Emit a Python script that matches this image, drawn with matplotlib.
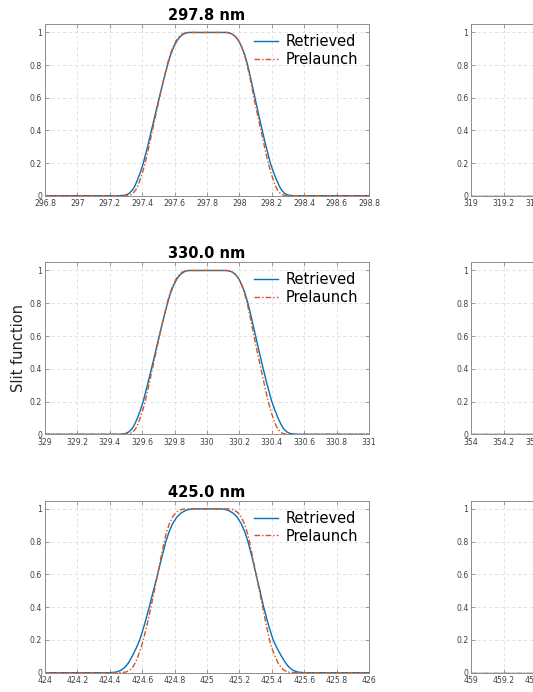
import numpy as np
import matplotlib
matplotlib.use('Agg')
import matplotlib.pyplot as plt
from matplotlib.ticker import FormatStrFormatter, FuncFormatter, MultipleLocator

# panel centres (nm) and titles
centers = [297.8, 330.0, 425.0]
titles = ['297.8 nm', '330.0 nm', '425.0 nm']
right_starts = [319.0, 354.0, 459.0]   # right column, only partly in view

# slit function levels read along each edge of the curves
lev_up = [0, 0.004, 0.015, 0.035, 0.06, 0.1, 0.15, 0.2, 0.3, 0.4, 0.5,
          0.6, 0.7, 0.8, 0.86, 0.91, 0.95, 0.975, 0.99, 0.997, 1.0]

# wavelength offsets from centre (nm) where each curve meets those levels
# rising edge (left) and falling edge (right)
ret_298_l = [-0.54, -0.50, -0.48, -0.46, -0.445, -0.428, -0.409, -0.393, -0.367, -0.343, -0.319,
             -0.295, -0.270, -0.244, -0.226, -0.206, -0.185, -0.165, -0.145, -0.128, -0.11]
ret_298_r = [0.53, 0.50, 0.478, 0.46, 0.446, 0.428, 0.408, 0.391, 0.365, 0.341, 0.318,
             0.296, 0.274, 0.251, 0.234, 0.215, 0.195, 0.175, 0.155, 0.138, 0.12]
pre_298_l = [-0.51, -0.475, -0.457, -0.440, -0.427, -0.412, -0.396, -0.382, -0.359, -0.337, -0.315,
             -0.293, -0.270, -0.246, -0.229, -0.210, -0.190, -0.171, -0.152, -0.136, -0.12]
pre_298_r = [0.50, 0.47, 0.452, 0.436, 0.423, 0.408, 0.392, 0.378, 0.355, 0.333, 0.311,
             0.290, 0.270, 0.248, 0.232, 0.214, 0.195, 0.176, 0.157, 0.14, 0.12]

ret_330_l = [-0.545, -0.505, -0.482, -0.462, -0.447, -0.429, -0.410, -0.394, -0.368, -0.343, -0.319,
             -0.295, -0.270, -0.244, -0.226, -0.206, -0.185, -0.165, -0.145, -0.128, -0.11]
ret_330_r = [0.55, 0.515, 0.492, 0.472, 0.457, 0.438, 0.418, 0.400, 0.372, 0.347, 0.323,
             0.300, 0.277, 0.253, 0.235, 0.216, 0.196, 0.176, 0.156, 0.139, 0.12]
pre_330_l = [-0.51, -0.475, -0.457, -0.440, -0.427, -0.412, -0.396, -0.382, -0.359, -0.337, -0.315,
             -0.293, -0.270, -0.246, -0.229, -0.210, -0.190, -0.171, -0.152, -0.136, -0.12]
pre_330_r = [0.50, 0.47, 0.452, 0.436, 0.423, 0.408, 0.392, 0.378, 0.355, 0.333, 0.311,
             0.290, 0.270, 0.248, 0.232, 0.214, 0.195, 0.176, 0.157, 0.14, 0.12]

ret_425_l = [-0.60, -0.56, -0.53, -0.505, -0.485, -0.462, -0.437, -0.415, -0.384, -0.357, -0.331,
             -0.305, -0.280, -0.254, -0.234, -0.212, -0.186, -0.160, -0.133, -0.11, -0.085]
ret_425_r = [0.60, 0.56, 0.53, 0.505, 0.485, 0.460, 0.432, 0.408, 0.377, 0.350, 0.327,
             0.303, 0.279, 0.253, 0.233, 0.211, 0.186, 0.160, 0.133, 0.11, 0.085]
pre_425_l = [-0.54, -0.50, -0.478, -0.458, -0.443, -0.426, -0.408, -0.393, -0.368, -0.346, -0.325,
             -0.305, -0.285, -0.264, -0.249, -0.232, -0.213, -0.194, -0.174, -0.155, -0.135]
pre_425_r = [0.54, 0.50, 0.475, 0.455, 0.438, 0.42, 0.40, 0.386, 0.364, 0.344, 0.323,
             0.303, 0.283, 0.262, 0.247, 0.230, 0.212, 0.193, 0.173, 0.155, 0.135]

retrieved = [(ret_298_l, ret_298_r), (ret_330_l, ret_330_r), (ret_425_l, ret_425_r)]
prelaunch = [(pre_298_l, pre_298_r), (pre_330_l, pre_330_r), (pre_425_l, pre_425_r)]

# visible bit of the right column: flat zero
right_dx = [0.0, 0.2, 0.4, 0.6]
right_y = [0, 0, 0, 0]

BLUE = '#0072BD'
ORANGE = '#D95319'
TXT = '#404040'
GREY = '#8c8c8c'

fig = plt.figure(figsize=(5.33, 6.92), dpi=100)
W, H = 533.0, 692.0
rows = [(24.3, 195.7), (262.3, 434.3), (500.7, 672.7)]  # top, bottom in px

y_curve = [0] + lev_up + lev_up[::-1] + [0]


def curve_x(c, sides):
    left, right = sides
    return c + np.array([-1.0] + left + right[::-1] + [1.0])


def style(ax, x0, last_label=None):
    ax.set_xlim(x0, x0 + 2.0)
    ax.set_ylim(0, 1.05)
    ax.xaxis.set_major_locator(MultipleLocator(0.2))
    ax.yaxis.set_major_locator(MultipleLocator(0.2))
    if last_label is None:
        ax.xaxis.set_major_formatter(FormatStrFormatter('%g'))
    else:
        ax.xaxis.set_major_formatter(FuncFormatter(
            lambda v, p: ('%g' % round(v, 1)) if v < last_label else ''))
    ax.yaxis.set_major_formatter(FormatStrFormatter('%g'))
    ax.tick_params(direction='in', length=3, width=0.6, colors=GREY,
                   labelcolor=TXT, labelsize=5.6, top=True, right=True)
    ax.tick_params(axis='x', pad=2.6)
    ax.tick_params(axis='y', pad=2.0)
    ax.grid(True, color='#dedede', linestyle=(0, (4, 3)), linewidth=0.6)
    ax.set_axisbelow(True)
    for s in ax.spines.values():
        s.set_color(GREY)
        s.set_linewidth(0.7)


for i in range(3):
    top, bot = rows[i]
    ax = fig.add_axes([45 / W, (H - bot) / H, 324 / W, (bot - top) / H])
    c = centers[i]
    ax.plot(curve_x(c, retrieved[i]), y_curve, color=BLUE, lw=1.0, label='Retrieved')
    ax.plot(curve_x(c, prelaunch[i]), y_curve, color=ORANGE, lw=1.0,
            ls=(0, (4, 1.5, 1, 1.5)), label='Prelaunch')
    style(ax, c - 1.0)
    ax.set_title(titles[i], fontsize=10.5, fontweight='bold', pad=3)
    ax.legend(loc='upper right', frameon=False, fontsize=10.5, handlelength=1.65,
              handletextpad=0.5, labelspacing=0.2, borderaxespad=0, borderpad=0,
              bbox_to_anchor=(0.966, 0.942))
    if i == 1:
        ax.set_ylabel('Slit function', fontsize=10.5, color='#262626', labelpad=3)

    axr = fig.add_axes([471.3 / W, (H - bot) / H, 324 / W, (bot - top) / H])
    x0 = right_starts[i]
    axr.plot(x0 + np.array(right_dx), right_y, color=BLUE, lw=1.0)
    axr.plot(x0 + np.array(right_dx), right_y, color=ORANGE, lw=1.0, ls=(0, (4, 1.5, 1, 1.5)))
    style(axr, x0, last_label=x0 + 0.5)

fig.savefig('out.png', dpi=100)
